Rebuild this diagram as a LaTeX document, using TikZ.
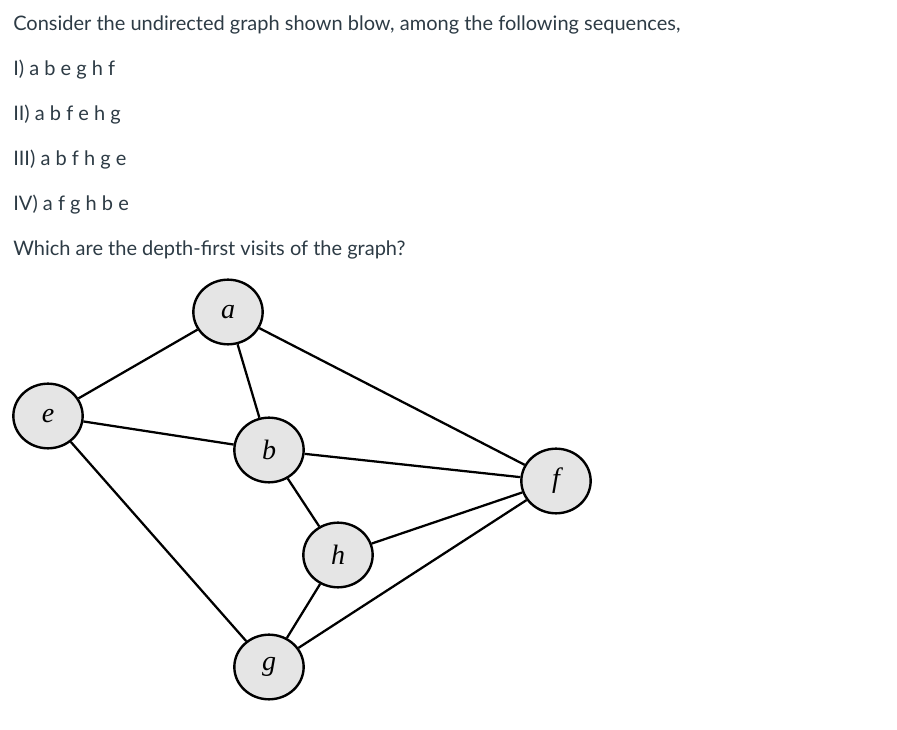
\documentclass[tikz,border=0pt]{standalone}
\usepackage{fontspec}
\setmainfont{Lato}
\newfontfamily\labelfont{Liberation Serif}
\usetikzlibrary{shapes.geometric}
\definecolor{txt}{HTML}{2D3B45}
\begin{document}
\begin{tikzpicture}[x=0.75pt,y=-0.75pt,
  vert/.style={ellipse,draw,line width=1.8pt,fill=black!10,minimum width=52pt,minimum height=48.5pt,inner sep=0pt,font=\labelfont\itshape\fontsize{21}{21}\selectfont},
  edge/.style={line width=1.7pt},
  qtext/.style={anchor=base west,inner sep=0pt,text=txt,font=\fontsize{15}{17}\selectfont}]
\useasboundingbox (0,0) rectangle (897,730);
\node[qtext] (t0) at (13,31) {Consider the undirected graph shown blow, among the following sequences,};
\node[qtext] (t1) at (13,76) {I) a b e g h f};
\node[qtext] (t2) at (13,121) {II) a b f e h g};
\node[qtext] (t3) at (13,166) {III) a b f h g e};
\node[qtext] (t4) at (13,211) {IV) a f g h b e};
\node[qtext] (t5) at (13,256) {Which are the depth-first visits of the graph?};
\node[vert] (a) at (228,312) {a};
\node[vert] (e) at (48,416) {e};
\node[vert] (b) at (269,450) {b};
\node[vert] (f) at (556,481) {f};
\node[vert] (h) at (338,555) {h};
\node[vert] (g) at (269,667) {g};
\draw[edge] (a) -- (e);
\draw[edge] (a) -- (b);
\draw[edge] (a) -- (f);
\draw[edge] (e) -- (b);
\draw[edge] (e) -- (g);
\draw[edge] (b) -- (f);
\draw[edge] (b) -- (h);
\draw[edge] (h) -- (f);
\draw[edge] (h) -- (g);
\draw[edge] (g) -- (f);
\end{tikzpicture}
\end{document}
